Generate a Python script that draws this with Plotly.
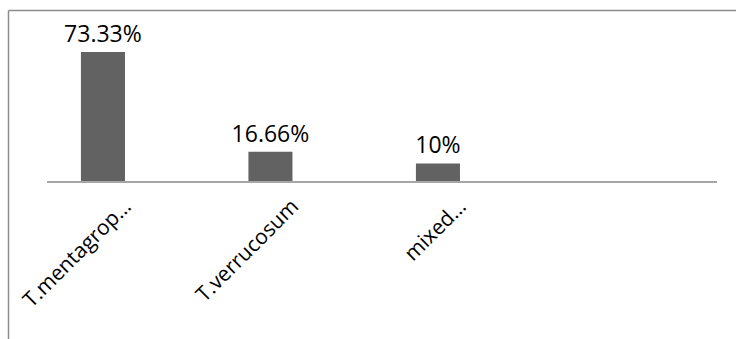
import plotly.graph_objects as go

# Species share of isolates
categories = ["T.mentagrop…", "T.verrucosum", "mixed…", " "]
shares = [73.33, 16.66, 10, None]
share_labels = ["73.33%", "16.66%", "10%", ""]

W, H = 736, 339

fig = go.Figure(
    go.Bar(
        x=categories,
        y=shares,
        text=share_labels,
        textposition="outside",
        constraintext="none",
        cliponaxis=False,
        width=0.263,
        marker=dict(color="#626262", line=dict(width=0)),
        textfont=dict(family="Open Sans", size=23, color="#000000"),
        hoverinfo="skip",
    )
)

# chart frame (left and top edges)
frame_color = "#8c8c8c"
fig.add_shape(type="line", xref="paper", yref="paper",
              x0=8.5 / W, x1=8.5 / W, y0=(H - 10.5) / H, y1=-0.1,
              line=dict(color=frame_color, width=1.5))
fig.add_shape(type="line", xref="paper", yref="paper",
              x0=8.5 / W, x1=1.1, y0=(H - 10.5) / H, y1=(H - 10.5) / H,
              line=dict(color=frame_color, width=1.5))

fig.update_layout(
    width=W,
    height=H,
    margin=dict(l=0, r=0, t=0, b=0),
    paper_bgcolor="white",
    plot_bgcolor="white",
    showlegend=False,
    font=dict(family="Open Sans", color="#000000"),
    xaxis=dict(
        domain=[47 / W, 717 / W],
        range=[-0.334, 3.666],
        automargin=False,
        showline=True,
        linecolor="#a6a6a6",
        linewidth=1.5,
        ticks="",
        tickangle=-45,
        tickfont=dict(family="Open Sans", size=21, color="#000000"),
        ticklabelshift=22,
        ticklabelstandoff=3,
        showgrid=False,
        zeroline=False,
        fixedrange=True,
    ),
    yaxis=dict(
        domain=[(H - 181) / H, (H - 10) / H],
        range=[0, 97.2],
        automargin=False,
        visible=False,
        showgrid=False,
        zeroline=False,
        fixedrange=True,
    ),
)

fig.write_html("out.html")
